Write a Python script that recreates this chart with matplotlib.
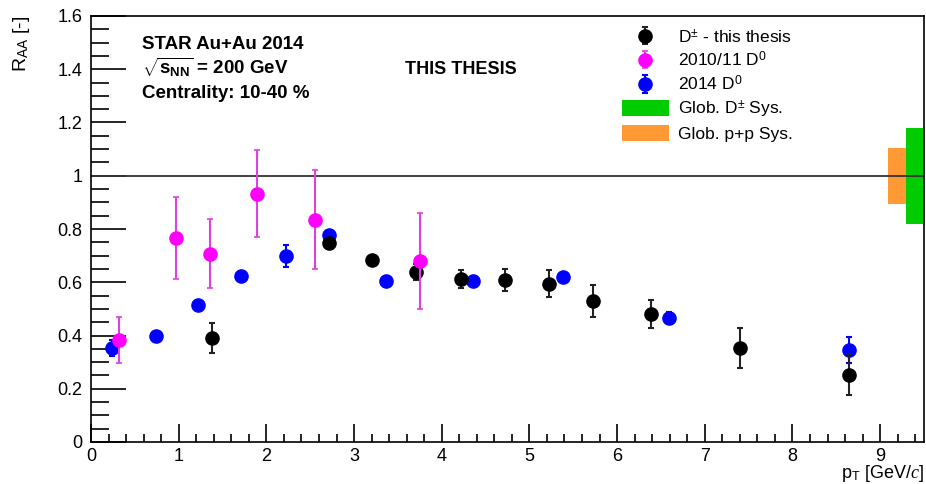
import matplotlib
matplotlib.use("Agg")
import matplotlib.pyplot as plt
from matplotlib.ticker import MultipleLocator, FuncFormatter
from matplotlib.patches import Patch

plt.rcParams['font.family'] = ['Liberation Sans', 'DejaVu Sans']
plt.rcParams['mathtext.fontset'] = 'custom'
plt.rcParams['mathtext.rm'] = 'Liberation Sans'
plt.rcParams['mathtext.bf'] = 'Liberation Sans:bold'
plt.rcParams['mathtext.it'] = 'Liberation Serif:italic'
plt.rcParams['mathtext.sf'] = 'Liberation Sans'

# D+- this thesis
dpm_pt = [1.38, 2.71, 3.21, 3.71, 4.22, 4.72, 5.22, 5.72, 6.39, 7.40, 8.64]
dpm_raa = [0.390, 0.747, 0.684, 0.640, 0.613, 0.608, 0.595, 0.529, 0.482, 0.353, 0.253]
dpm_err = [0.057, 0.020, 0.015, 0.030, 0.033, 0.040, 0.050, 0.060, 0.052, 0.075, 0.075]

# 2010/11 D0
d0_1011_pt = [0.32, 0.97, 1.36, 1.89, 2.56, 3.75]
d0_1011_raa = [0.383, 0.767, 0.707, 0.932, 0.835, 0.679]
d0_1011_err = [0.088, 0.153, 0.130, 0.163, 0.187, 0.180]

# 2014 D0
d0_2014_pt = [0.24, 0.74, 1.22, 1.71, 2.22, 2.71, 3.36, 4.36, 5.38, 6.59, 8.64]
d0_2014_raa = [0.353, 0.397, 0.514, 0.624, 0.699, 0.777, 0.604, 0.604, 0.620, 0.467, 0.345]
d0_2014_err = [0.030, 0.010, 0.010, 0.010, 0.040, 0.010, 0.010, 0.010, 0.010, 0.020, 0.050]

# global systematics (half-widths around 1)
glob_dpm_sys = 0.18
glob_pp_sys = 0.105

labels = ["D$^{\\pm}$ - this thesis", "2010/11 D$^{0}$", "2014 D$^{0}$",
          "Glob. D$^{\\pm}$ Sys.", "Glob. p+p Sys."]

W, H = 926, 484
fig = plt.figure(figsize=(W / 100, H / 100), dpi=100)
ax = fig.add_axes([91 / W, 42 / H, (924 - 91) / W, (442 - 16) / H])
ax.set_xlim(0, 9.5)
ax.set_ylim(0, 1.6)

green = '#00cc00'
orange = '#ff9933'

ax.bar([9.395], [2 * glob_dpm_sys], bottom=[1 - glob_dpm_sys], width=0.21,
       color=green, edgecolor='none', zorder=1)
ax.bar([9.19], [2 * glob_pp_sys], bottom=[1 - glob_pp_sys], width=0.20,
       color=orange, edgecolor='none', zorder=1)
ax.axhline(1.0, color='#333333', lw=1.3, zorder=2)

ms = 9.5
eb_blue = ax.errorbar(d0_2014_pt, d0_2014_raa, yerr=d0_2014_err, fmt='o', color='#0000ff',
                      ms=ms, mec='#0000ff', ecolor='#0000ff', elinewidth=1.5, capsize=2,
                      capthick=1.5, zorder=3)
eb_black = ax.errorbar(dpm_pt, dpm_raa, yerr=dpm_err, fmt='o', color='black',
                       ms=ms, ecolor='#222222', elinewidth=1.5, capsize=2.5,
                       capthick=1.5, zorder=4)
eb_mag = ax.errorbar(d0_1011_pt, d0_1011_raa, yerr=d0_1011_err, fmt='o', color='#ff00ff',
                     ms=ms, ecolor='#e040e0', elinewidth=1.5, capsize=2,
                     capthick=1.2, zorder=5)

ax.xaxis.set_major_locator(MultipleLocator(1))
ax.xaxis.set_minor_locator(MultipleLocator(0.2))
ax.yaxis.set_major_locator(MultipleLocator(0.2))
ax.yaxis.set_minor_locator(MultipleLocator(0.05))
ax.yaxis.set_major_formatter(FuncFormatter(lambda v, p: f"{v:g}"))
ax.xaxis.set_major_formatter(FuncFormatter(lambda v, p: f"{v:g}"))
ax.tick_params(axis='both', which='both', direction='in', top=False, right=False,
               labelsize=13, width=1.2)
ax.tick_params(axis='y', which='major', length=25, pad=6)
ax.tick_params(axis='y', which='minor', length=13)
ax.tick_params(axis='x', which='major', length=13, pad=4)
ax.tick_params(axis='x', which='minor', length=6)
for s in ax.spines.values():
    s.set_linewidth(1.2)

fig.text(924 / W, 1 - 478 / H, "p$_{\\mathrm{T}}$ [GeV/$c$]", ha='right', va='baseline', fontsize=13)
fig.text(21 / W, 1 - 16 / H, "R$_{\\mathrm{AA}}$ [-]", ha='center', va='top', rotation=90, fontsize=14)

fig.text(142 / W, 1 - 49 / H, "STAR Au+Au 2014", fontsize=13.5, fontweight='bold', va='baseline')
fig.text(142 / W, 1 - 74 / H, "$\\mathbf{\\sqrt{s_{NN}}}$ = 200 GeV", fontsize=13.5,
         fontweight='bold', va='baseline')
fig.text(142 / W, 1 - 98 / H, "Centrality: 10-40 %", fontsize=13.5, fontweight='bold', va='baseline')
fig.text(405 / W, 1 - 74 / H, "THIS THESIS", fontsize=13, fontweight='bold', va='baseline')

handles = [eb_black, eb_mag, eb_blue,
           Patch(facecolor=green, edgecolor='none'),
           Patch(facecolor=orange, edgecolor='none')]
leg = ax.legend(handles, labels, loc='upper left',
                bbox_to_anchor=((622 - 91) / 833, (442 - 27) / 426),
                frameon=False, fontsize=12.5, handlelength=2.7, handletextpad=0.5,
                labelspacing=0.28, borderpad=0, borderaxespad=0, handleheight=1.0)

fig.savefig("out.png", dpi=100)
